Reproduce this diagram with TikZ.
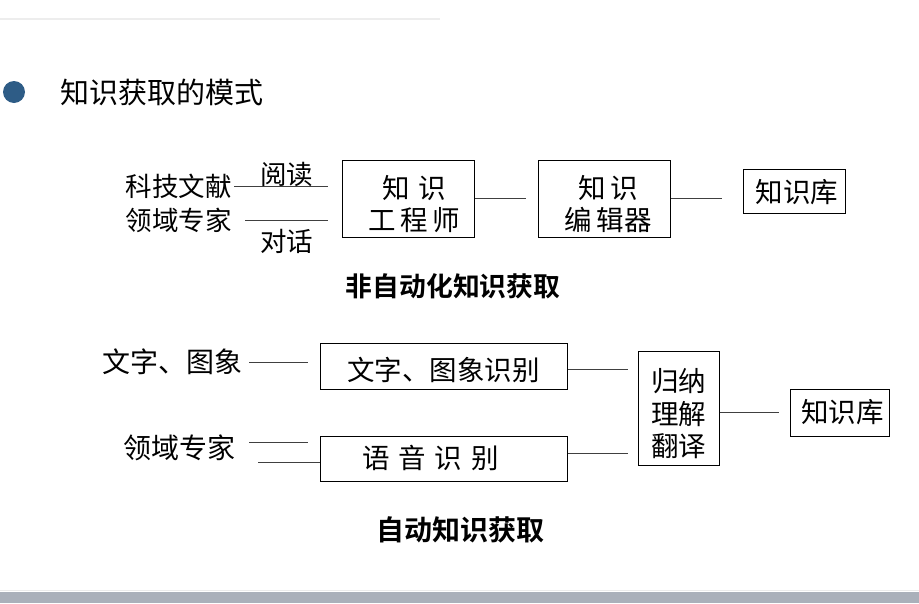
\documentclass[tikz,border=0pt]{standalone}
\usepackage{fontspec}
\setmainfont{Noto Sans CJK SC}[BoldFont={Noto Sans CJK SC Bold}]
\usepackage{xcolor}
\usepackage{tikz}
\usetikzlibrary{positioning}

\definecolor{bulletblue}{RGB}{46,92,134}
\definecolor{bandgray}{RGB}{170,176,186}
\definecolor{linegray}{RGB}{64,64,64}

\begin{document}
\begin{tikzpicture}[x=1pt,y=-1pt,
    txt/.style={inner sep=0pt,font=\fontsize{26.5}{32}\selectfont},
    bigtxt/.style={inner sep=0pt,font=\fontsize{28}{32}\selectfont},
    kbox/.style={draw,line width=1pt,inner sep=0pt},
    boxtxt/.style={align=center,inner sep=0pt,font=\fontsize{27.5}{32.5}\selectfont},
    link/.style={draw=linegray,line width=1pt},
    captxt/.style={inner sep=0pt,font=\bfseries}]
        \useasboundingbox (0,0) rectangle (919,603);
        \draw[line width=2pt,color=black!7] (0,19) -- (440,19);
        \fill[bandgray] (0,592) rectangle (919,603);
        \draw[line width=1pt,color=black!8] (0,590) -- (919,590);
        % bullet and title
        \fill[bulletblue] (14,92) circle (11);
        \node[inner sep=0pt,anchor=west,font=\fontsize{29}{32}\selectfont] (title) at (60,92) {知识获取的模式};
        % non-automatic acquisition
        \node[txt,anchor=east] (lit) at (232,186) {科技文献};
        \node[txt,anchor=east] (exp1) at (232,220) {领域专家};
        \node[kbox,minimum width=132,minimum height=77,
          label={[boxtxt,xshift=6pt,yshift=-5.5pt]center:{知\hspace{9pt}识\\工\,程\,师}}] (eng) at (408,198.5) {};
        \node[kbox,minimum width=132,minimum height=77,
          label={[boxtxt,xshift=4pt,yshift=-5.5pt]center:{知\,识\\编\,辑器}}] (edit) at (604,198.5) {};
        \node[kbox,minimum width=102,minimum height=44,
          label={[boxtxt,xshift=3pt,yshift=-1.5pt]center:知识库}] (kb1) at (794,191) {};
        \draw[link,shorten <=2pt,shorten >=14pt] (lit.east) -- (eng.west|-lit.east) node[midway,above,txt,yshift=-1pt] {阅读};
        \draw[link,shorten <=13pt,shorten >=14pt] (exp1.east) -- (eng.west|-exp1.east) node[midway,below,txt,yshift=-9pt] {对话};
        \draw[link,shorten >=12pt] (eng.east|-edit.west) -- (edit.west);
        \draw[link,shorten >=21pt] (edit.east) -- (kb1.west|-edit.east);
        \node[captxt,font=\fontsize{26.8}{30}\selectfont\bfseries] (cap1) at (453,286) {非自动化知识获取};
        % automatic acquisition
        \node[bigtxt,anchor=east] (img) at (243,362) {文字、图象};
        \node[bigtxt,anchor=east] (exp2) at (236,448) {领域专家};
        \node[kbox,minimum width=247,minimum height=46,
          label={[boxtxt,yshift=-4pt]center:文字、图象识别}] (ocr) at (443.5,366) {};
        \node[kbox,minimum width=247,minimum height=45,
          label={[boxtxt,xshift=-13pt,yshift=1pt]center:{语\hspace{9pt}音\hspace{9pt}识\hspace{9pt}别}}] (asr) at (443.5,458.5) {};
        \node[kbox,minimum width=81,minimum height=114,
          label={[boxtxt,yshift=-6pt]center:{归纳\\理解\\翻译}}] (ind) at (678.5,408) {};
        \node[kbox,minimum width=99,minimum height=47,
          label={[boxtxt,xshift=3pt]center:知识库}] (kb2) at (839.5,412.5) {};
        \coordinate (v1) at (249,442);
        \coordinate (v2) at (258,462);
        \coordinate (o1) at ([yshift=-3pt]ocr.east);
        \coordinate (o2) at ([yshift=5pt]asr.east);
        \draw[link,shorten <=6pt,shorten >=12pt] (img.east) -- (ocr.west|-img.east);
        \draw[link,shorten >=12pt] (v1) -- (asr.west|-v1);
        \draw[link] (v2) -- (asr.west|-v2);
        \draw[link,shorten >=10pt] (o1) -- (ind.west|-o1);
        \draw[link,shorten >=10pt] (o2) -- (ind.west|-o2);
        \draw[link,shorten >=11pt] (ind.east|-kb2.west) -- (kb2.west);
        \node[captxt,font=\fontsize{28}{30}\selectfont\bfseries] (cap2) at (460,530) {自动知识获取};
      \end{tikzpicture}
\end{document}
